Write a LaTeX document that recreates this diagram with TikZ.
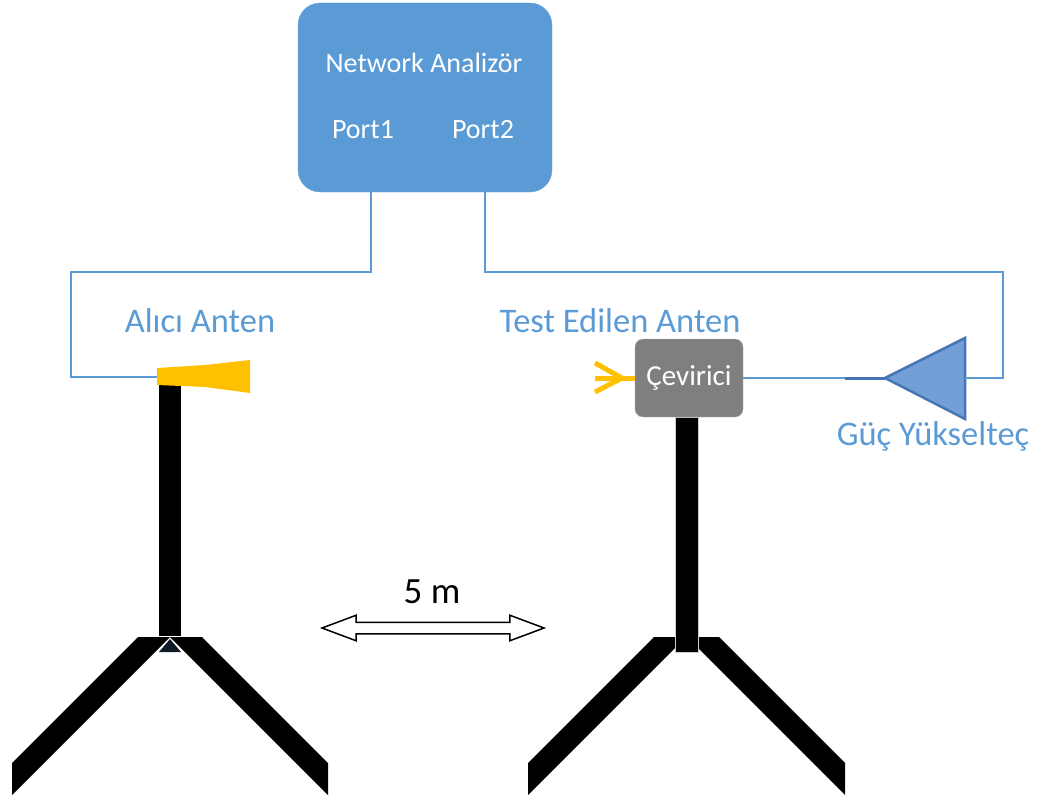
\documentclass[tikz,border=0pt]{standalone}
\usepackage{fontspec}
\setmainfont{Carlito}
\usepackage{tikz}
\usetikzlibrary{positioning, calc, shapes.arrows}
\definecolor{office-blue}{HTML}{5B9BD5}
\definecolor{amp-blue}{HTML}{72A0D6}
\definecolor{amp-edge}{HTML}{4677B4}
\definecolor{horn-yellow}{HTML}{FFC000}
\definecolor{box-gray}{HTML}{7F7F7F}
\definecolor{joint-dark}{HTML}{0E1A26}

\begin{document}
\begin{tikzpicture}[x=1pt, y=-1pt,
  wire/.style={draw=office-blue, line width=2.5pt},
  boxtext/.style={text=white, anchor=base, font=\fontsize{28}{32}\selectfont},
  tag/.style={text=office-blue, anchor=base, font=\fontsize{34.5}{38}\selectfont},
  fork/.style={draw=horn-yellow, line width=5pt}]

\useasboundingbox (0,0) rectangle (1038,800);

% network analyser
\node[fill=office-blue, draw=office-blue!85!white, rounded corners=22pt, minimum width=254pt, minimum height=189pt] (na) at (425,97.5) {};
\node[boxtext] (natitle) at (424,72) {Network Analizör};
\node[boxtext] (p1) at (363,138) {Port1};
\node[boxtext] (p2) at (483,138) {Port2};
\coordinate (p1out) at (371,192);
\coordinate (p2out) at (485,192);

% tripods
\fill (138,637) -- (170,637) -- (12,795) -- (12,763) -- cycle;
\fill (170,637) -- (202,637) -- (328,763) -- (328,795) -- cycle;
\fill (159,384) rectangle (181,636);
\fill[joint-dark] (159,652) -- (170,639) -- (181,652) -- cycle;

\fill (654,637) -- (686,637) -- (528,795) -- (528,763) -- cycle;
\fill (687,637) -- (719,637) -- (845,763) -- (845,795) -- cycle;
\filldraw[draw=gray!40, line width=0.8pt] (675,417) rectangle (698,652);

% receiving horn
\fill[horn-yellow] (157,368) -- (205,365) -- (250,360) -- (250,393) -- (205,387) -- (157,385) -- cycle;
\coordinate (horn) at (157,377);
\node[tag] (rx) at (200,332) {Alıcı Anten};

% antenna under test on the rotator
\node[fill=box-gray, draw=gray!60, rounded corners=8pt, minimum width=108pt, minimum height=78pt, text=white, font=\fontsize{29}{33}\selectfont] (cev) at (689,378) {Çevirici};
\coordinate (feed) at (595,378);
\draw[fork] (cev.west) -- (feed);
\draw[fork] (595,363) -- (622,378) -- (595,392);
\node[tag] (aut) at (620,332) {Test Edilen Anten};

% power amplifier
\coordinate (ampbase) at (965,378);
\coordinate (amptip) at (885,378);
\coordinate (ampout) at (845,378);
\filldraw[fill=amp-blue, draw=amp-edge, line width=2.5pt] (965,338) -- (965,419) -- (amptip) -- cycle;
\node[tag] (amp) at (933,445) {Güç Yükselteç};

% cabling
\draw[wire] (p1out) |- (71,272) |- (horn);
\draw[wire] (p2out) |- (1003,272) |- (ampbase);
\draw[draw=amp-edge, line width=3pt] (amptip) -- (ampout);
\draw[wire] (ampout) -- (cev.east);

% distance
\node[double arrow, draw, fill=white, line width=1.5pt, minimum height=222pt, inner sep=5pt, double arrow head extend=7pt, double arrow tip angle=41] (span) at (433,628) {};
\node[anchor=base, font=\fontsize{37}{40}\selectfont] (dist) at (432,603) {5 m};

\end{tikzpicture}
\end{document}
